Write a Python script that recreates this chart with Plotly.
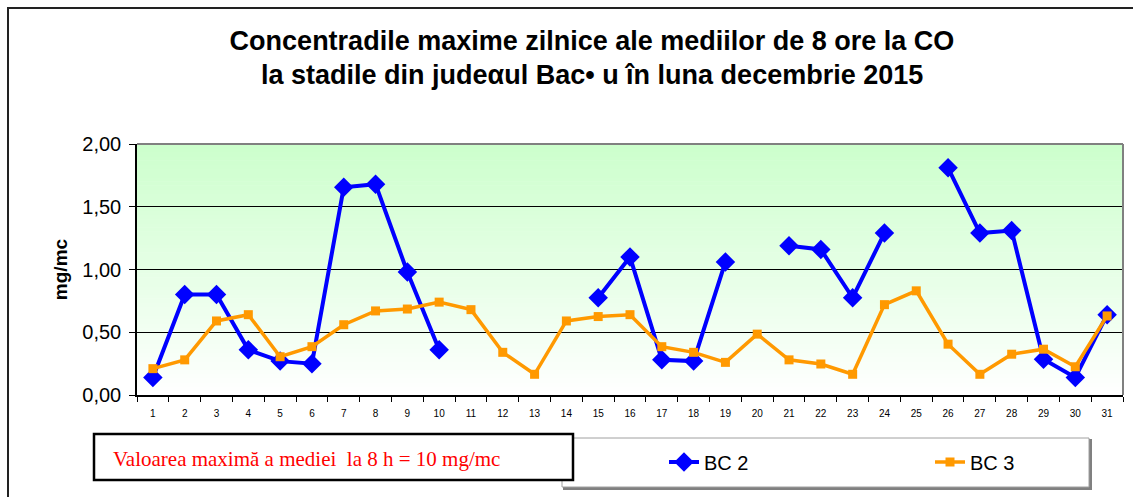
import plotly.graph_objects as go

# ---- data ----
days = list(range(1, 32))
day_labels = [str(d) for d in days]
bc2 = [0.14, 0.80, 0.80, 0.36, 0.27, 0.25, 1.655, 1.68, 0.98, 0.36,
       None, None, None, None, 0.775, 1.10, 0.28, 0.27, 1.06, None,
       1.19, 1.16, 0.775, 1.29, None, 1.81, 1.29, 1.31, 0.285, 0.14, 0.64]
bc3 = [0.21, 0.28, 0.59, 0.64, 0.305, 0.385, 0.56, 0.67, 0.685, 0.74,
       0.68, 0.34, 0.165, 0.59, 0.625, 0.64, 0.385, 0.34, 0.26, 0.485,
       0.28, 0.247, 0.165, 0.72, 0.83, 0.405, 0.165, 0.325, 0.365, 0.225, 0.63]
y_ticks = [0, 0.5, 1.0, 1.5, 2.0]

W, H = 1133, 497
L, R, T, B = 137, 1123, 144, 395  # plot area in pixels


def px(x):
    return (x - L) / (R - L)


def py(y):
    return (B - y) / (B - T)


fig = go.Figure()
fig.add_trace(go.Scatter(
    x=days, y=bc2, name="BC 2", mode="lines+markers", connectgaps=False,
    line=dict(color="#0000FF", width=4),
    marker=dict(symbol="diamond", size=15, color="#0000FF")))
fig.add_trace(go.Scatter(
    x=days, y=bc3, name="BC 3", mode="lines+markers",
    line=dict(color="#FF9900", width=3.5),
    marker=dict(symbol="square", size=9, color="#FF9900")))

shapes = []
# gradient background of the plot area
n = 60
for i in range(n):
    t = i / n
    t2 = (i + 1) / n
    f = (t + t2) / 2  # 0 at bottom, 1 at top
    r = int(round(255 - (255 - 204) * f))
    g = 255
    b = int(round(255 - (255 - 204) * f))
    shapes.append(dict(type="rect", xref="paper", yref="paper",
                       x0=0, x1=1, y0=t, y1=t2 + 0.002,
                       fillcolor=f"rgb({r},{g},{b})", line=dict(width=0),
                       layer="below"))
# plot area top and right gray borders
shapes.append(dict(type="line", xref="paper", yref="paper", x0=0, x1=1, y0=1, y1=1,
                   line=dict(color="#808080", width=2)))
shapes.append(dict(type="line", xref="paper", yref="paper", x0=1, x1=1, y0=0, y1=1,
                   line=dict(color="#808080", width=2)))
# outer chart border
shapes.append(dict(type="rect", xref="paper", yref="paper",
                   x0=px(8), x1=px(1140), y0=py(8), y1=py(505),
                   line=dict(color="#222222", width=2), fillcolor="rgba(0,0,0,0)"))
# legend box with shadow
shapes.append(dict(type="rect", xref="paper", yref="paper",
                   x0=px(564), x1=px(1091), y0=py(440), y1=py(489),
                   line=dict(color="#808080", width=2), fillcolor="#808080"))
shapes.append(dict(type="rect", xref="paper", yref="paper",
                   x0=px(562), x1=px(1089), y0=py(438), y1=py(487),
                   line=dict(color="#A0A0A0", width=1), fillcolor="white"))
# red text box
shapes.append(dict(type="rect", xref="paper", yref="paper",
                   x0=px(94), x1=px(573), y0=py(434), y1=py(480),
                   line=dict(color="black", width=2.5), fillcolor="white"))

annotations = [
    dict(text="<b>la stadile din judeαul Bac• u în luna decembrie 2015</b>",
         xref="paper", yref="paper", x=px(592), y=py(75), showarrow=False,
         font=dict(family="Liberation Sans, Arial", size=27, color="black"),
         xanchor="center", yanchor="middle"),
    dict(text="Valoarea maximă a mediei\u00a0\u00a0la 8 h = 10 mg/mc",
         xref="paper", yref="paper", x=px(111), y=py(459), showarrow=False,
         font=dict(family="Liberation Serif, Times New Roman", size=21, color="#FF0000"),
         xanchor="left", yanchor="middle"),
]

fig.update_layout(
    width=W, height=H,
    margin=dict(l=L, r=W - R, t=T, b=H - B),
    paper_bgcolor="white", plot_bgcolor="white",
    separators=",.",
    title=dict(text="<b>Concentradile maxime zilnice ale mediilor de 8 ore la CO</b>",
               x=592 / W, xanchor="center", y=1 - 41 / H, yanchor="middle",
               font=dict(family="Liberation Sans, Arial", size=27, color="black")),
    shapes=shapes, annotations=annotations,
    showlegend=True,
    legend=dict(orientation="h", xref="container", yref="container",
                x=664 / W, xanchor="left", y=1 - 462 / H, yanchor="middle",
                entrywidth=221, entrywidthmode="pixels",
                bgcolor="rgba(0,0,0,0)", borderwidth=0,
                font=dict(family="Liberation Sans, Arial", size=20, color="black")),
)

fig.update_xaxes(
    range=[0.5, 31.5], tickmode="array", tickvals=days, ticktext=day_labels,
    ticks="", showgrid=False, zeroline=False,
    showline=True, linecolor="black", linewidth=1.5,
    tickfont=dict(family="Liberation Sans, Arial", size=10, color="black"),
    ticklabelstandoff=8,
    minor=dict(tick0=0.5, dtick=1, ticks="outside", ticklen=5, tickcolor="black",
               tickwidth=1, showgrid=False),
)
fig.update_yaxes(
    range=[0, 2.0], tickmode="array", tickvals=y_ticks, tickformat=".2f",
    ticks="outside", ticklen=6, tickcolor="black",
    showgrid=True, gridcolor="black", gridwidth=1, zeroline=False,
    showline=True, linecolor="black", linewidth=1.5,
    tickfont=dict(family="Liberation Sans, Arial", size=20, color="black"),
    ticklabelstandoff=4,
    title=dict(text="<b>mg/mc</b>", standoff=10,
               font=dict(family="Liberation Sans, Arial", size=19, color="black")),
)

fig.write_html("out.html", config={"displayModeBar": False},
               post_script="document.body.style.margin='0';")
